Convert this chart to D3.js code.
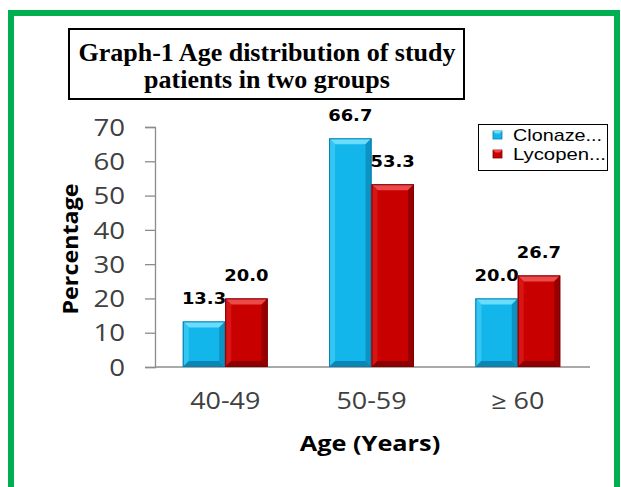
<!DOCTYPE html>
<html><head><meta charset="utf-8">
<script src="https://cdn.jsdelivr.net/npm/d3@7/dist/d3.min.js"></script>
<style>body{margin:0;background:#fff;}svg{display:block;}</style>
</head><body>
<script>
const categories = ["40-49", "50-59", "\u2265 60"];
const seriesNames = ["Clonaze...", "Lycopen..."];
const clonazepam = [13.3, 66.7, 20.0];
const lycopene = [20.0, 53.3, 26.7];
const yTicks = [0, 10, 20, 30, 40, 50, 60, 70];
const titleLines = ["Graph-1 Age distribution of study", "patients in two groups"];

const W = 621, H = 487;
const svg = d3.select("body").append("svg").attr("width", W).attr("height", H);
const sans = "'Open Sans', sans-serif";

// green frame
svg.append("rect").attr("x", 11).attr("y", 13).attr("width", 606).attr("height", 520)
  .attr("fill", "#fff").attr("stroke", "#00b050").attr("stroke-width", 6);

// title box
svg.append("rect").attr("x", 69).attr("y", 29).attr("width", 395).attr("height", 70)
  .attr("fill", "#fff").attr("stroke", "#000").attr("stroke-width", 2);
svg.append("g").selectAll("text").data(titleLines).join("text")
  .attr("x", 267).attr("y", (d, i) => 61 + i * 27)
  .attr("text-anchor", "middle")
  .attr("font-family", "'Liberation Serif', 'Times New Roman', serif")
  .attr("font-weight", "bold").attr("font-size", 26).attr("fill", "#000")
  .text(d => d);

const y = d3.scaleLinear().domain([0, 70]).range([367, 127]);
const x = d3.scaleBand().domain(categories).range([155, 588]).paddingInner(0.42).paddingOuter(0.19);
const xs = d3.scaleBand().domain([0, 1]).range([0, x.bandwidth()]);

// stretch helper (reference text is horizontally wide)
function stretch(sel, f) {
  sel.each(function () {
    const n = this.getComputedTextLength();
    d3.select(this).attr("textLength", n * f).attr("lengthAdjust", "spacingAndGlyphs");
  });
}

// y axis
const yAxis = svg.append("g").attr("transform", "translate(155,0)")
  .call(d3.axisLeft(y).tickValues(yTicks).tickSize(10).tickPadding(20).tickFormat(d3.format("d")));
yAxis.select(".domain").attr("stroke", "#8c8c8c").attr("stroke-width", 1.3);
yAxis.selectAll(".tick line").attr("stroke", "#8c8c8c").attr("stroke-width", 1.3);
yAxis.selectAll(".tick text").attr("font-family", sans).attr("font-size", 23)
  .attr("fill", "#404040").attr("dy", "0.36em").call(stretch, 1.2);

// x axis
const xAxis = svg.append("g").attr("transform", "translate(0,367)")
  .call(d3.axisBottom(x).tickSize(0).tickPadding(26));
xAxis.select(".domain").attr("stroke", "#8c8c8c").attr("stroke-width", 1.3).attr("d", "M155,0H590");
xAxis.selectAll(".tick text").attr("font-family", sans).attr("font-size", 23)
  .attr("fill", "#404040").call(stretch, 1.17);

// axis titles
svg.append("text").attr("x", 370).attr("y", 451).attr("text-anchor", "middle")
  .attr("font-family", sans).attr("font-weight", "bold").attr("font-size", 22)
  .attr("fill", "#000").text("Age (Years)").call(stretch, 1.15);
svg.append("text").attr("transform", "translate(78,249) rotate(-90)").attr("text-anchor", "middle")
  .attr("font-family", sans).attr("font-weight", "bold").attr("font-size", 22)
  .attr("fill", "#000").text("Percentage").call(stretch, 1.06);

// bars with bevel
const palettes = [
  {base: "#13b6ea", top: "#6adcfd", left: "#34c6f3", right: "#0b93c4", bottom: "#0a86b5", edge: "#0a7fae"},
  {base: "#c80000", top: "#ec4a4a", left: "#d81414", right: "#960000", bottom: "#8c0000", edge: "#800000"}
];
const series = [clonazepam, lycopene];
const bev = 6;
series.forEach((vals, si) => {
  const p = palettes[si];
  const g = svg.append("g");
  vals.forEach((v, ci) => {
    const x0 = x(categories[ci]) + xs(si), w = xs.bandwidth();
    const y0 = y(v), y1 = y(0), x1 = x0 + w;
    g.append("rect").attr("x", x0).attr("y", y0).attr("width", w).attr("height", y1 - y0).attr("fill", p.base);
    g.append("polygon").attr("points", [[x0, y0], [x1, y0], [x1 - bev, y0 + bev], [x0 + bev, y0 + bev]].join(" ")).attr("fill", p.top);
    g.append("polygon").attr("points", [[x0, y0], [x0 + bev, y0 + bev], [x0 + bev, y1 - bev], [x0, y1]].join(" ")).attr("fill", p.left);
    g.append("polygon").attr("points", [[x1, y0], [x1 - bev, y0 + bev], [x1 - bev, y1 - bev], [x1, y1]].join(" ")).attr("fill", p.right);
    g.append("polygon").attr("points", [[x0, y1], [x0 + bev, y1 - bev], [x1 - bev, y1 - bev], [x1, y1]].join(" ")).attr("fill", p.bottom);
    g.append("rect").attr("x", x0 + 0.5).attr("y", y0 + 0.5).attr("width", w - 1).attr("height", y1 - y0 - 1)
      .attr("fill", "none").attr("stroke", p.edge).attr("stroke-width", 1);
    g.append("text").attr("x", x0 + w / 2).attr("y", y0 - 17).attr("text-anchor", "middle")
      .attr("font-family", "'DejaVu Sans', Verdana, sans-serif").attr("font-weight", "bold").attr("font-size", 16)
      .attr("fill", "#000").text(v.toFixed(1)).call(stretch, 1.12);
  });
});

// legend
const lg = svg.append("g");
lg.append("rect").attr("x", 478.5).attr("y", 124.5).attr("width", 129).attr("height", 46)
  .attr("fill", "#fff").attr("stroke", "#000").attr("stroke-width", 1);
const legendW = [89, 93];
seriesNames.forEach((name, i) => {
  const p = palettes[i];
  const sy = 131 + i * 19;
  lg.append("rect").attr("x", 493).attr("y", sy).attr("width", 9).attr("height", 8).attr("fill", p.base).attr("stroke", p.edge).attr("stroke-width", 0.8);
  lg.append("polygon").attr("points", [[493, sy], [502, sy], [499.5, sy + 2.5], [495.5, sy + 2.5]].join(" ")).attr("fill", p.top);
  lg.append("text").attr("x", 513).attr("y", sy + 10).attr("font-family", "'Liberation Sans', Arial, sans-serif")
    .attr("font-size", 16.4).attr("fill", "#000").attr("textLength", legendW[i]).attr("lengthAdjust", "spacingAndGlyphs").text(name);
});
</script>
</body></html>
